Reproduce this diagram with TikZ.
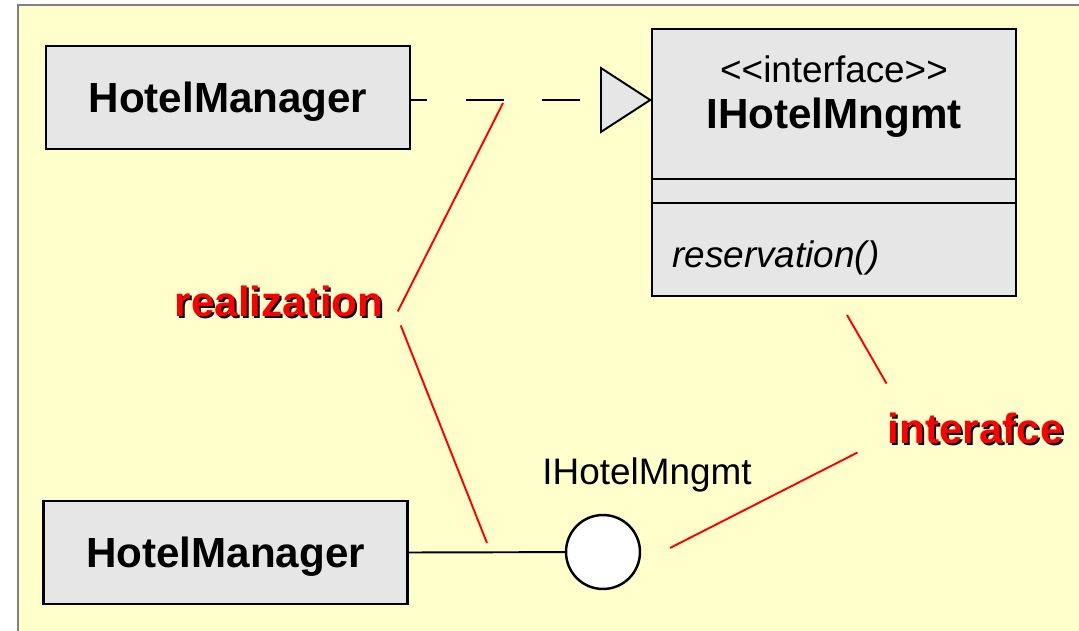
\documentclass[tikz,border=0pt]{standalone}
\usepackage{fontspec}
\setmainfont{Liberation Sans}
\usetikzlibrary{positioning, arrows.meta}

\definecolor{notebg}{HTML}{FFFFCC}
\definecolor{sheetgray}{HTML}{808080}
\definecolor{boxgray}{HTML}{E6E6E6}
\definecolor{notered}{HTML}{FF0000}

% keep << and >> from turning into guillemets
\newcommand\dlt{<\kern0pt<}
\newcommand\dgt{>\kern0pt>}

\tikzset{
  cls/.style={draw, line width=1.4pt, fill=boxgray, inner sep=0pt,
    minimum width=7.28cm, minimum height=2.06cm,
    text height=17.2pt, text depth=0pt,
    font=\fontsize{24}{28}\selectfont\bfseries},
  link/.style={line width=1.1pt},
  realize/.style={link, dash pattern=on 21.5pt off 22.1pt, dash phase=12.5pt,
    -{Triangle[length=1.04cm, width=1.34cm, fill=boxgray]}},
  ball/.style={circle, draw, line width=1.4pt, fill=white, minimum size=1.48cm, inner sep=0pt},
  hint/.style={draw=notered, line width=1.1pt},
  tag/.style={inner sep=0pt, text=notered, font=\fontsize{24}{28}\selectfont\bfseries},
  tagshadow/.style={tag, text=black},
}

\begin{document}
\begin{tikzpicture}[x=0.02cm, y=-0.02cm]
  \useasboundingbox (0,0) rectangle (1079,631);
  % background sheet
  \fill[notebg] (18,5) rectangle (1079,631);
  \draw[sheetgray, line width=1pt] (18,631) -- (18,5) -- (1079,5);

  % classes
  \node[cls] (mgrA) at (228,97.5) {HotelManager};
  \node[cls] (mgrB) at (225.5,552.5) {HotelManager};
  \node[cls, minimum height=5.34cm] (iface) at (834,162.5) {};
  \draw[line width=1.4pt] (652,179) -- (1016,179);
  \draw[line width=1.4pt] (652,203) -- (1016,203);
  \node[anchor=base, font=\fontsize{21}{25}\selectfont] (stereo) at (834,83) {\dlt interface\dgt};
  \node[anchor=base, font=\fontsize{24}{28}\selectfont\bfseries] (ifname) at (834,129) {IHotelMngmt};
  \node[anchor=base west, inner sep=0pt, font=\fontsize{21}{25}\selectfont\itshape] (op) at (672,268) {reservation()};

  % realization arrow
  \coordinate (tip) at (652,100);
  \draw[realize] (mgrA.east |- tip) -- (tip);

  % provided interface
  \node[ball] (lolli) at (603,552) {};
  \draw[link] (mgrB.east) -- (lolli);
  \node[font=\fontsize{21}{25}\selectfont] (lolliname) at (647,475) {IHotelMngmt};

  % notes
  \node[tagshadow, anchor=base west] (realshade) at (176.5,318.5) {realization};
  \node[tag, anchor=base west] (realnote) at (174.5,316.5) {realization};
  \node[tagshadow, anchor=base west] (intshade) at (889.5,445.5) {interafce};
  \node[tag, anchor=base west] (intnote) at (887.5,443.5) {interafce};

  \coordinate (realtop) at (503,103);
  \coordinate (realbot) at (487,543);
  \coordinate (inttop) at (847,315);
  \coordinate (intbot) at (670,548);
  \draw[hint] (realtop) -- ([shift={(14,-5)}]realnote.base east);
  \draw[hint] ([shift={(17,9)}]realnote.base east) -- (realbot);
  \draw[hint] (inttop) -- ([shift={(-1,-60)}]intnote.base west);
  \draw[hint] ([shift={(-30,9)}]intnote.base west) -- (intbot);
\end{tikzpicture}
\end{document}
